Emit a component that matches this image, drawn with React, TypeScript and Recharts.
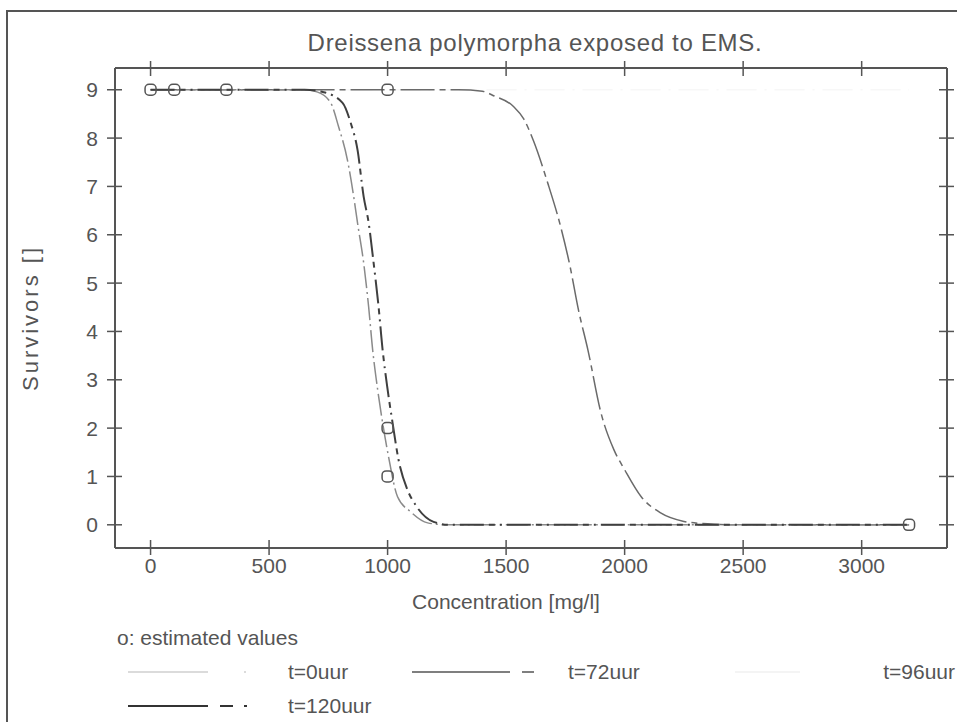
import React from "react";
import { ComposedChart, Line, Scatter, XAxis, YAxis } from "recharts";

const INK = "#555";
const FONT = "'Liberation Sans', Arial, sans-serif";
const FS = 21;

// concentration [mg/l] against fitted survivors, one pair of lists per exposure time
const t0Conc = [0, 3200];
const t0Surv = [9, 9];

const t72Conc = [0, 1300, 1400, 1450, 1530, 1575, 1615, 1675, 1730, 1770, 1805, 1845, 1900, 1955, 2000, 2070, 2150, 2250, 2350, 2450, 3200];
const t72Surv = [9, 9, 8.97, 8.87, 8.66, 8.39, 7.95, 7.08, 6.17, 5.34, 4.45, 3.62, 2.32, 1.55, 1.14, 0.58, 0.25, 0.07, 0.02, 0, 0];

const t96Conc = [0, 650, 705, 760, 793, 830, 857, 873, 899, 920, 937, 958, 979, 1004, 1042, 1097, 1169, 1250, 3200];
const t96Surv = [9, 9, 8.95, 8.73, 8.24, 7.56, 6.79, 6.25, 5.42, 4.51, 3.62, 2.8, 2.11, 1.41, 0.58, 0.27, 0.04, 0, 0];

const t120Conc = [0, 650, 730, 810, 844, 873, 899, 920, 941, 962, 979, 1000, 1021, 1046, 1084, 1118, 1194, 1260, 3200];
const t120Surv = [9, 9, 8.95, 8.73, 8.32, 7.76, 6.79, 6.25, 5.42, 4.51, 3.62, 2.8, 2.11, 1.35, 0.72, 0.41, 0.06, 0, 0];

// "o: estimated values"
const estConc = [0, 100, 320, 1000, 1000, 1000, 3200];
const estSurv = [9, 9, 9, 9, 2, 1, 0];

const xTicks = [0, 500, 1000, 1500, 2000, 2500, 3000];
const yTicks = [0, 1, 2, 3, 4, 5, 6, 7, 8, 9];

const toRows = (conc: number[], surv: number[]) => conc.map((c, i) => ({ c, s: surv[i] }));

// t=0 sits on the top/right axes so that the mirrored frame gets drawn (same domains)
const series = [
  { name: "t=0uur", rows: toRows(t0Conc, t0Surv), color: "#f7f7f7", dash: "30 8 2 8", width: 1.5, xId: "top", yId: "right" },
  { name: "t=72uur", rows: toRows(t72Conc, t72Surv), color: "#6a6a6a", dash: "34 5 6 5", width: 1.5, xId: 0, yId: 0 },
  { name: "t=96uur", rows: toRows(t96Conc, t96Surv), color: "#8a8a8a", dash: "22 4 2 4", width: 1.5, xId: 0, yId: 0 },
  { name: "t=120uur", rows: toRows(t120Conc, t120Surv), color: "#3f3f3f", dash: "24 5 6 5 2 5", width: 2, xId: 0, yId: 0 },
];

const textStyle = { fill: INK, fontSize: FS, fontFamily: FONT };

const BottomTick = ({ x, y, payload }: any) => (
  <g>
    <line x1={x} x2={x} y1={y - 8} y2={y + 7} stroke={INK} strokeWidth={1.5} />
    <text x={x} y={y + 25} textAnchor="middle" {...textStyle}>{payload.value}</text>
  </g>
);

const TopTick = ({ x, y }: any) => (
  <line x1={x} x2={x} y1={y - 7} y2={y + 8} stroke={INK} strokeWidth={1.5} />
);

const LeftTick = ({ x, y, payload }: any) => (
  <g>
    <line x1={x - 8} x2={x + 7} y1={y} y2={y} stroke={INK} strokeWidth={1.5} />
    <text x={x - 17} y={y + 7.5} textAnchor="end" {...textStyle}>{payload.value}</text>
  </g>
);

const RightTick = ({ x, y }: any) => (
  <line x1={x - 8} x2={x + 7} y1={y} y2={y} stroke={INK} strokeWidth={1.5} />
);

const EstimateMark = ({ cx, cy }: any) => (
  <rect x={cx - 5.5} y={cy - 5.5} width={11} height={11} rx={4} fill="none" stroke={INK} strokeWidth={1.5} />
);

const Legend = () => (
  <svg width={957} height={722} style={{ position: "absolute", left: 0, top: 0, pointerEvents: "none" }}>
    <text x={117} y={645} {...textStyle}>o: estimated values</text>
    <line x1={128} x2={208} y1={672} y2={672} stroke="#cfcfcf" strokeWidth={1.5} />
    <line x1={244} x2={246} y1={672} y2={672} stroke="#cfcfcf" strokeWidth={1.5} />
    <text x={288} y={679} {...textStyle}>t=0uur</text>
    <line x1={412} x2={510} y1={672} y2={672} stroke="#555" strokeWidth={1.5} />
    <line x1={522} x2={534} y1={672} y2={672} stroke="#555" strokeWidth={1.5} />
    <text x={568} y={679} {...textStyle}>t=72uur</text>
    <line x1={735} x2={800} y1={672} y2={672} stroke="#f0f0f0" strokeWidth={1.5} />
    <text x={955} y={679} textAnchor="end" {...textStyle}>t=96uur</text>
    <line x1={128} x2={208} y1={706} y2={706} stroke="#333" strokeWidth={2} />
    <line x1={220} x2={233} y1={706} y2={706} stroke="#333" strokeWidth={2} />
    <line x1={244} x2={247} y1={706} y2={706} stroke="#333" strokeWidth={2} />
    <text x={288} y={713} {...textStyle}>t=120uur</text>
  </svg>
);

export default function App() {
  return (
    <div style={{ position: "absolute", left: 0, top: 0, width: 957, height: 722, background: "#fff", overflow: "hidden" }}>
      <div style={{ position: "absolute", left: 6, top: 10, width: 960, height: 720, borderLeft: `2px solid ${INK}`, borderTop: `2px solid ${INK}` }} />
      <div style={{ position: "absolute", left: 0, top: 29, width: 1070, textAlign: "center", color: INK, fontSize: 24, letterSpacing: 0.7, fontFamily: FONT }}>
        Dreissena polymorpha exposed to EMS.
      </div>
      <div style={{ position: "absolute", left: 31, top: 318, transform: "translate(-50%, -50%) rotate(-90deg)", whiteSpace: "nowrap", color: INK, fontSize: 22, letterSpacing: 3, fontFamily: FONT }}>
        Survivors []
      </div>
      <div style={{ position: "absolute", left: 0, top: 590, width: 1012, textAlign: "center", color: INK, fontSize: FS, fontFamily: FONT }}>
        Concentration [mg/l]
      </div>
      <ComposedChart width={957} height={722} margin={{ top: 66, right: 8, bottom: 134, left: 55 }} style={{ position: "absolute", left: 0, top: 0 }}>
        <XAxis dataKey="c" type="number" domain={[-150, 3360]} ticks={xTicks} allowDataOverflow height={40}
          axisLine={{ stroke: INK, strokeWidth: 2 }} tickLine={false} tickSize={0} tickMargin={0} tick={<BottomTick />} />
        <XAxis xAxisId="top" orientation="top" dataKey="c" type="number" domain={[-150, 3360]} ticks={xTicks} allowDataOverflow height={2}
          axisLine={{ stroke: INK, strokeWidth: 2 }} tickLine={false} tickSize={0} tickMargin={0} tick={<TopTick />} />
        <YAxis type="number" domain={[-0.48, 9.45]} ticks={yTicks} allowDataOverflow width={60}
          axisLine={{ stroke: INK, strokeWidth: 2 }} tickLine={false} tickSize={0} tickMargin={0} tick={<LeftTick />} />
        <YAxis yAxisId="right" orientation="right" type="number" domain={[-0.48, 9.45]} ticks={yTicks} allowDataOverflow width={2}
          axisLine={{ stroke: INK, strokeWidth: 2 }} tickLine={false} tickSize={0} tickMargin={0} tick={<RightTick />} />
        {series.map((d) => (
          <Line key={d.name} data={d.rows} dataKey="s" name={d.name} type="monotone" xAxisId={d.xId} yAxisId={d.yId}
            stroke={d.color} strokeWidth={d.width} strokeDasharray={d.dash} dot={false} activeDot={false} isAnimationActive={false} />
        ))}
        <Scatter data={toRows(estConc, estSurv)} dataKey="s" shape={<EstimateMark />} isAnimationActive={false} />
      </ComposedChart>
      <Legend />
    </div>
  );
}
